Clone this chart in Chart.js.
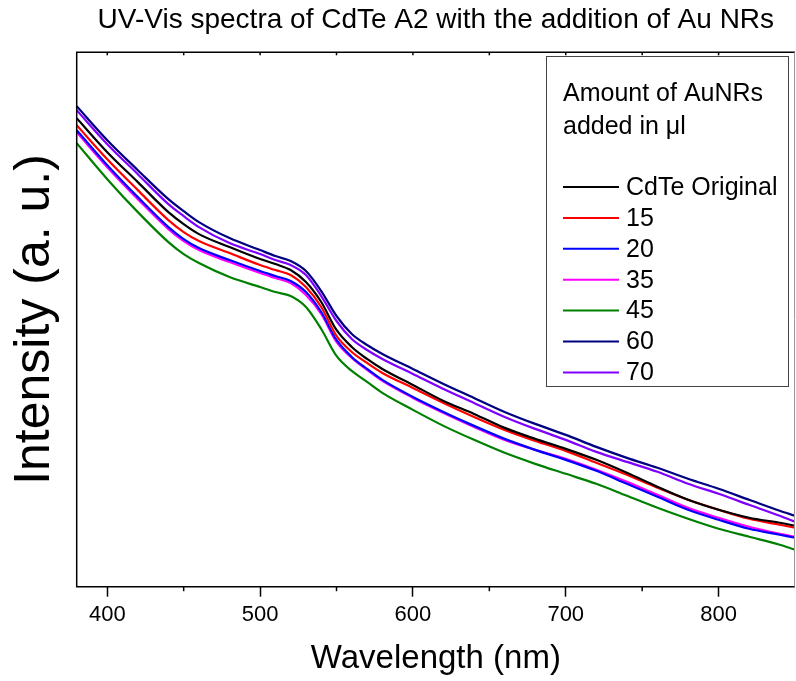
<!DOCTYPE html>
<html><head><meta charset="utf-8">
<script src="https://cdn.jsdelivr.net/npm/chart.js@4.4.0/dist/chart.umd.min.js"></script>
<style>html,body{margin:0;padding:0;background:#fff;}#wrap{width:796px;height:681px;}</style>
</head><body><div id="wrap"><canvas id="c" width="796" height="681"></canvas></div>
<script>
// ---- data ----
const wavelengths = [380,400,420,440,450,460,480,500,510,520,530,540,550,560,570,580,600,620,640,660,680,700,720,740,760,780,800,820,840,850];
const cdteOriginal = [4.69,4.35,4.05,3.75,3.63,3.53,3.40,3.28,3.23,3.17,3.05,2.85,2.57,2.40,2.28,2.18,2.02,1.86,1.73,1.59,1.48,1.38,1.27,1.14,1.00,0.87,0.77,0.69,0.64,0.61];
const au15 = [4.62,4.28,3.97,3.67,3.55,3.46,3.34,3.22,3.17,3.12,3.00,2.80,2.51,2.35,2.24,2.14,1.99,1.84,1.70,1.57,1.46,1.36,1.24,1.12,0.99,0.87,0.77,0.68,0.62,0.59];
const au20 = [4.57,4.22,3.90,3.60,3.48,3.39,3.27,3.16,3.11,3.06,2.95,2.75,2.47,2.30,2.18,2.07,1.90,1.75,1.61,1.48,1.37,1.27,1.16,1.03,0.90,0.77,0.67,0.58,0.52,0.49];
const au35 = [4.55,4.20,3.88,3.58,3.46,3.37,3.25,3.14,3.09,3.04,2.92,2.73,2.45,2.29,2.17,2.06,1.89,1.74,1.60,1.47,1.37,1.28,1.17,1.05,0.92,0.79,0.69,0.60,0.53,0.50];
const au45 = [4.44,4.08,3.75,3.45,3.33,3.24,3.10,3.00,2.95,2.91,2.80,2.58,2.31,2.16,2.05,1.94,1.77,1.61,1.47,1.34,1.23,1.13,1.03,0.91,0.79,0.68,0.58,0.50,0.42,0.37];
const au60 = [4.81,4.47,4.17,3.88,3.76,3.65,3.49,3.37,3.31,3.26,3.16,2.96,2.71,2.53,2.42,2.33,2.18,2.03,1.89,1.75,1.63,1.52,1.40,1.29,1.19,1.08,0.98,0.87,0.76,0.71];
const au70 = [4.77,4.43,4.13,3.83,3.71,3.60,3.44,3.33,3.27,3.22,3.12,2.91,2.66,2.48,2.37,2.28,2.13,1.98,1.84,1.70,1.58,1.47,1.35,1.25,1.15,1.03,0.93,0.82,0.71,0.65];
const seriesLabels = ['CdTe Original','15','20','35','45','60','70'];
const seriesColors = ['#000000','#ff0000','#0000ff','#ff00ff','#008000','#000080','#8000ff'];
const legendTitle = ['Amount of AuNRs','added in \u03BCl'];
const xTickValues = [400,450,500,550,600,650,700,750,800];
const chartTitle = 'UV-Vis spectra of CdTe A2 with the addition of Au NRs';
const xTitle = 'Wavelength (nm)';
const yTitle = 'Intensity (a. u.)';

const FONT = "'Liberation Sans', Arial, Helvetica, sans-serif";
const seriesValues = [cdteOriginal, au15, au20, au35, au45, au60, au70];
const datasets = seriesValues.map((vals, i) => ({
  label: seriesLabels[i],
  data: wavelengths.map((w, j) => ({x: w, y: vals[j]})),
  borderColor: seriesColors[i],
  backgroundColor: seriesColors[i],
  borderWidth: 2.2,
  pointRadius: 0,
  cubicInterpolationMode: 'monotone',
  fill: false
}));

const framePlugin = {
  id: 'frame',
  afterDatasetsDraw(chart) {
    const {ctx, chartArea: a, scales: {x}} = chart;
    ctx.save();
    ctx.strokeStyle = '#000';
    ctx.lineWidth = 1.5;
    ctx.beginPath();
    ctx.moveTo(a.right, a.top); ctx.lineTo(a.left, a.top); ctx.lineTo(a.left, a.bottom); ctx.lineTo(a.right, a.bottom);
    ctx.stroke();
    ctx.strokeStyle = '#999';
    ctx.lineWidth = 1;
    ctx.beginPath(); ctx.moveTo(a.right - 0.5, a.top); ctx.lineTo(a.right - 0.5, a.bottom); ctx.stroke();
    ctx.strokeStyle = '#000';
    ctx.lineWidth = 1.5;
    xTickValues.forEach(v => {
      const px = x.getPixelForValue(v);
      ctx.beginPath(); ctx.moveTo(px, a.top); ctx.lineTo(px, a.top + 3); ctx.stroke();
      if (v % 100 !== 0) {
        ctx.beginPath(); ctx.moveTo(px, a.bottom); ctx.lineTo(px, a.bottom + 4.5); ctx.stroke();
      }
    });
    // legend
    const bx = 546.5, by = 56.5, bw = 242, bh = 330;
    ctx.fillStyle = '#fff';
    ctx.fillRect(bx, by, bw, bh);
    ctx.strokeStyle = '#444';
    ctx.lineWidth = 1;
    ctx.strokeRect(bx, by, bw, bh);
    ctx.fillStyle = '#000';
    ctx.font = '25px ' + FONT;
    ctx.textBaseline = 'middle';
    ctx.textAlign = 'left';
    legendTitle.forEach((t, i) => ctx.fillText(t, 563, 94 + i * 33));
    chart.data.datasets.forEach((ds, i) => {
      const yy = 187 + i * 30.9;
      ctx.strokeStyle = ds.borderColor;
      ctx.lineWidth = 2;
      ctx.beginPath(); ctx.moveTo(563, yy); ctx.lineTo(619, yy); ctx.stroke();
      ctx.fillStyle = '#000';
      ctx.fillText(ds.label, 626, yy + 1);
    });
    ctx.restore();
  }
};

new Chart(document.getElementById('c'), {
  type: 'line',
  data: {datasets},
  plugins: [framePlugin],
  options: {
    responsive: false,
    animation: false,
    devicePixelRatio: 1,
    layout: {padding: {left: 0, right: 1, top: 0, bottom: 0}},
    plugins: {
      legend: {display: false},
      tooltip: {enabled: false},
      title: {
        display: true, text: chartTitle, fullSize: false, color: '#000',
        font: {family: FONT, size: 28, weight: 'normal', lineHeight: 1.2},
        padding: {top: 3, bottom: 15.7}
      }
    },
    scales: {
      x: {
        type: 'linear', position: 'bottom', min: 380, max: 850,
        afterBuildTicks(s) { s.ticks = xTickValues.map(v => ({value: v})); },
        afterFit(s) { s.height = 94.3; },
        ticks: {
          autoSkip: false, maxRotation: 0, padding: 5, color: '#000',
          font: {family: FONT, size: 22},
          callback: v => (v % 100 === 0 ? String(v) : '')
        },
        grid: {
          drawOnChartArea: false, drawTicks: true, tickLength: 10, tickWidth: 1.5,
          tickColor: c => (c.tick && c.tick.value % 100 === 0 ? '#000' : 'rgba(0,0,0,0)')
        },
        border: {display: false},
        title: {display: true, text: xTitle, color: '#000', font: {family: FONT, size: 33, lineHeight: 1.2}, padding: {top: 0, bottom: 2}}
      },
      y: {
        type: 'linear', position: 'left', min: 0, max: 5.35,
        afterFit(s) { s.width = 76.7; },
        ticks: {display: false},
        grid: {display: false},
        border: {display: false},
        title: {display: true, text: yTitle, color: '#000', font: {family: FONT, size: 50, lineHeight: 1.2}, padding: {top: 5, bottom: 0}}
      }
    }
  }
});
</script>
</body></html>
